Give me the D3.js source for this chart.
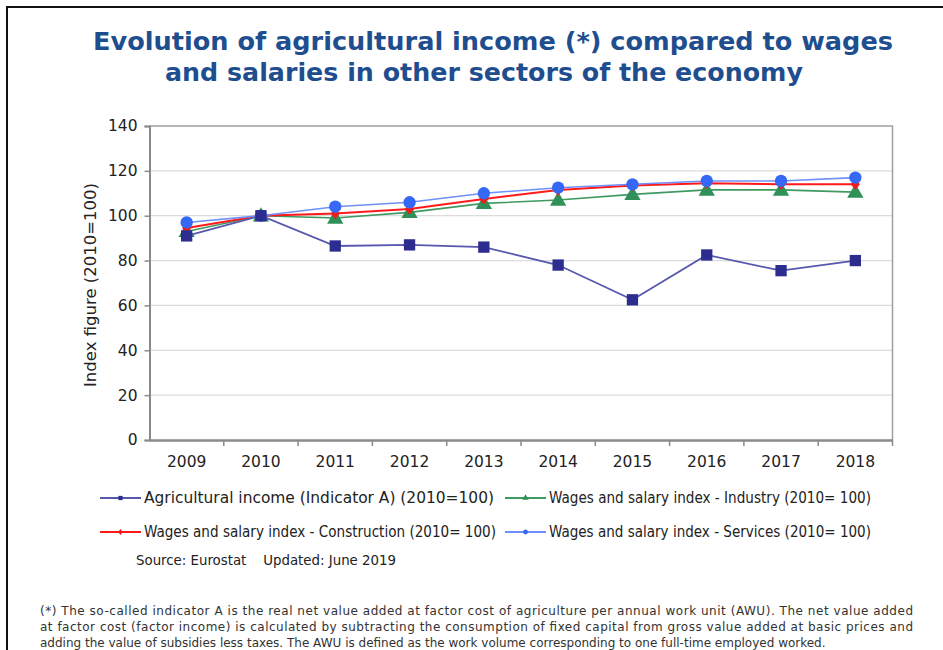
<!DOCTYPE html>
<html>
<head>
<meta charset="utf-8">
<script src="https://cdn.jsdelivr.net/npm/d3@7"></script>
<style>
  html, body { margin: 0; padding: 0; background: #fff; }
  svg { display: block; }
</style>
</head>
<body>
<script>
// Index values, 2010 = 100
const years = ["2009", "2010", "2011", "2012", "2013", "2014", "2015", "2016", "2017", "2018"];
const agricultural = [91, 100, 86.5, 87, 86, 78, 62.5, 82.5, 75.5, 80];
const industry     = [93, 100, 99, 101.5, 105.5, 107, 109.5, 111.5, 111.5, 110.5];
const construction = [94.5, 100, 101, 103, 107.5, 111.5, 113.5, 114.5, 114, 114];
const services     = [97, 100, 104, 106, 110, 112.5, 114, 115.5, 115.5, 117];
const yTicks = [0, 20, 40, 60, 80, 100, 120, 140];

const seriesNames = [
  "Agricultural income (Indicator A) (2010=100)",
  "Wages and salary index - Industry (2010= 100)",
  "Wages and salary index - Construction (2010= 100)",
  "Wages and salary index - Services (2010= 100)"
];
const titleLines = [
  "Evolution of agricultural income (*) compared to wages",
  "and salaries in other sectors of the economy"
];
const sourceText = "Source: Eurostat    Updated: June 2019";
const noteLines = [
  "(*) The so-called indicator A is the real net value added at factor cost of agriculture per annual work unit (AWU). The net value added",
  "at factor cost (factor income) is calculated by subtracting the consumption of fixed capital from gross value added at basic prices and",
  "adding the value of subsidies less taxes. The AWU is defined as the work volume corresponding to one full-time employed worked."
];

const W = 943, H = 650;
const svg = d3.select("body").append("svg").attr("width", W).attr("height", H);

// outer frame
svg.append("path")
  .attr("d", `M7,${H} L7,7 L${W},7`)
  .attr("fill", "none").attr("stroke", "#111").attr("stroke-width", 2);

// title
const title = svg.append("text")
  .attr("text-anchor", "middle")
  .attr("font-family", "DejaVu Sans, Verdana, sans-serif")
  .attr("font-weight", "bold")
  .attr("font-size", 24)
  .attr("fill", "#1F4E8F");
title.append("tspan").attr("x", 493).attr("y", 50).attr("textLength", 800).attr("lengthAdjust", "spacingAndGlyphs").text(titleLines[0]);
title.append("tspan").attr("x", 484).attr("y", 81).attr("textLength", 638).attr("lengthAdjust", "spacingAndGlyphs").text(titleLines[1]);

// plot area
const plotL = 149.5, plotR = 892.5, plotT = 126, plotB = 440;
const x = d3.scaleBand().domain(years).range([plotL, plotR]);
const y = d3.scaleLinear().domain([0, 140]).range([plotB, plotT]);
const cx = d => x(d) + x.bandwidth() / 2;

// gridlines
svg.append("g").selectAll("line").data(yTicks.filter(t => t > 0 && t < 140)).join("line")
  .attr("x1", plotL).attr("x2", plotR)
  .attr("y1", d => y(d)).attr("y2", d => y(d))
  .attr("stroke", "#dcdcdc").attr("stroke-width", 1.2);

// plot frame (top and right)
svg.append("path")
  .attr("d", `M${plotL},${plotT} L${plotR},${plotT} L${plotR},${plotB}`)
  .attr("fill", "none").attr("stroke", "#a0a0a0").attr("stroke-width", 1.5);

// y axis
const yAxis = svg.append("g").attr("transform", `translate(${plotL},0)`)
  .call(d3.axisLeft(y).tickValues(yTicks).tickSize(5).tickPadding(7));
yAxis.select(".domain").attr("stroke", "#8a8a8a").attr("stroke-width", 2);
yAxis.selectAll(".tick line").attr("stroke", "#8a8a8a").attr("stroke-width", 1.5);
yAxis.selectAll(".tick text")
  .attr("font-family", "DejaVu Sans, Verdana, sans-serif").attr("font-size", 15.5).attr("fill", "#222");

// x axis: ticks on band boundaries
const xAxis = svg.append("g").attr("transform", `translate(0,${plotB})`)
  .call(d3.axisBottom(x).tickSize(0).tickPadding(16));
xAxis.select(".domain").attr("stroke", "#8a8a8a").attr("stroke-width", 2.5);
xAxis.selectAll(".tick text")
  .attr("font-family", "DejaVu Sans, Verdana, sans-serif").attr("font-size", 15.5).attr("fill", "#222");
svg.append("g").selectAll("line").data(years.slice(1).concat(["end"])).join("line")
  .attr("x1", d => d === "end" ? plotR : x(d))
  .attr("x2", d => d === "end" ? plotR : x(d))
  .attr("y1", plotB).attr("y2", plotB + 6)
  .attr("stroke", "#8a8a8a").attr("stroke-width", 1.5);

// y axis title
svg.append("text")
  .attr("transform", `translate(96,285) rotate(-90)`)
  .attr("text-anchor", "middle")
  .attr("font-family", "DejaVu Sans, Verdana, sans-serif")
  .attr("font-size", 16.5).attr("fill", "#222")
  .text("Index figure (2010=100)");

// series definitions
const series = [
  { name: seriesNames[1], values: industry, line: "#3f9a62", fill: "#2f9157", marker: d3.symbolTriangle, size: 115, width: 1.6 },
  { name: seriesNames[2], values: construction, line: "#ff1a1a", fill: "#ee1c1c", marker: "diamond", size: 85, width: 2 },
  { name: seriesNames[3], values: services, line: "#6f90fa", fill: "#3468f5", marker: d3.symbolCircle, size: 120, width: 1.6 },
  { name: seriesNames[0], values: agricultural, line: "#5757ad", fill: "#2d2d8f", marker: d3.symbolSquare, size: 128, width: 1.8 }
];

const diamond = {
  draw(ctx, size) {
    const r = Math.sqrt(size) * 0.62;
    const w = r * 0.8;
    ctx.moveTo(0, -r); ctx.lineTo(w, 0); ctx.lineTo(0, r); ctx.lineTo(-w, 0); ctx.closePath();
  }
};

const line = d3.line().x((d, i) => cx(years[i])).y(d => y(d));

series.forEach(s => {
  const g = svg.append("g");
  g.append("path").attr("d", line(s.values))
    .attr("fill", "none").attr("stroke", s.line).attr("stroke-width", s.width);
  const sym = d3.symbol().type(s.marker === "diamond" ? diamond : s.marker).size(s.size);
  g.selectAll("path.m").data(s.values).join("path").attr("class", "m")
    .attr("transform", (d, i) => `translate(${cx(years[i])},${y(d) + (s.marker === d3.symbolTriangle ? 1 : 0)})`)
    .attr("d", sym)
    .attr("fill", s.fill);
});

// legend: two rows of two entries
const legendItems = [
  { s: series[3], x: 100, y: 498, w: 350 },
  { s: series[0], x: 505, y: 498, w: 322 },
  { s: series[1], x: 100, y: 532, w: 352 },
  { s: series[2], x: 505, y: 532, w: 322 }
];
const legend = svg.append("g");
legendItems.forEach(it => {
  const g = legend.append("g").attr("transform", `translate(${it.x},${it.y})`);
  g.append("line").attr("x1", 0).attr("x2", 41).attr("y1", 0).attr("y2", 0)
    .attr("stroke", it.s.line).attr("stroke-width", 2);
  const sym = d3.symbol().type(it.s.marker === "diamond" ? diamond : it.s.marker).size(it.s.marker === "diamond" ? 22 : 18);
  g.append("path").attr("transform", "translate(20.5,0)").attr("d", sym).attr("fill", it.s.fill);
  g.append("text").attr("x", 44).attr("y", 5)
    .attr("font-family", "DejaVu Sans Condensed, DejaVu Sans, sans-serif")
    .attr("font-size", 15).attr("fill", "#222")
    .attr("textLength", it.w).attr("lengthAdjust", "spacingAndGlyphs")
    .text(it.s.name);
});

// source line
svg.append("text").attr("x", 136).attr("y", 565)
  .attr("font-family", "DejaVu Sans Condensed, DejaVu Sans, sans-serif")
  .attr("font-size", 14).attr("fill", "#222")
  .attr("xml:space", "preserve")
  .attr("textLength", 260).attr("lengthAdjust", "spacingAndGlyphs")
  .text(sourceText);

// footnote (justified lines)
const note = svg.append("text")
  .attr("font-family", "DejaVu Sans, Verdana, sans-serif")
  .attr("font-size", 12).attr("fill", "#333");
noteLines.forEach((t, i) => {
  const ts = note.append("tspan").attr("x", 40).attr("y", 615 + i * 16).text(t);
  if (i < 2) ts.attr("textLength", 873).attr("lengthAdjust", "spacing");
});
</script>
</body>
</html>
